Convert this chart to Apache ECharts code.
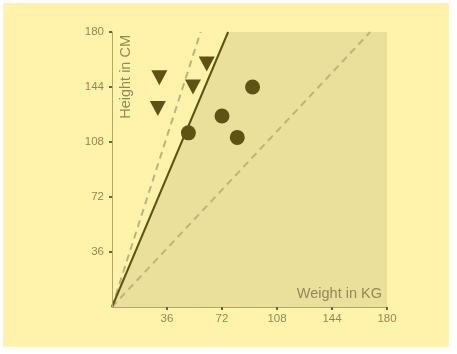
<!DOCTYPE html>
<html>
<head>
<meta charset="utf-8">
<script src="https://cdn.jsdelivr.net/npm/echarts@6/dist/echarts.min.js"></script>
<style>
  html, body { margin: 0; padding: 0; background: #ffffff; }
  #main { position: absolute; left: 3px; top: 3px; width: 446px; height: 344px; }
</style>
</head>
<body>
<div id="main"></div>
<script>
// weight (kg), height (cm)
const triangles = [[31, 150], [30, 130], [53, 144], [62, 159]]
const circles = [[50, 114], [72, 125], [82, 111], [92, 144]]
const solidLine = [[0, 0], [76, 180]]
const shadeEdge = [[0, 0], [76, 180], [180, 180]]
const dashSteep = [[0, 0], [58, 180]]
const dashFlat = [[0, 0], [169, 180]]
const ticks = [0, 36, 72, 108, 144, 180]

const textColor = '#938957'
const axisColor = '#b3a865'
const markColor = '#5e5214'

const axisCommon = {
    min: ticks[0],
    max: ticks[ticks.length - 1],
    interval: 36,
    z: 10,
    splitLine: { show: false },
    axisLine: { lineStyle: { color: axisColor, width: 1 } },
    axisTick: { length: 3, lineStyle: { color: '#6e6430', width: 2 } },
    axisLabel: { showMinLabel: false, color: textColor, fontSize: 11.5, fontFamily: 'Liberation Sans' },
    nameTextStyle: { color: textColor, fontSize: 14.5, fontFamily: 'Liberation Sans' }
}

const chart = echarts.init(document.getElementById('main'))
chart.setOption({
    backgroundColor: '#fff3ab',
    animation: false,
    grid: { left: 109, right: 62, top: 29, bottom: 40 },
    xAxis: Object.assign({}, axisCommon, {
        type: 'value',
        name: 'Weight in KG',
        nameLocation: 'end',
        nameGap: -5,
        nameTextStyle: Object.assign({}, axisCommon.nameTextStyle, {
            align: 'right', verticalAlign: 'bottom', padding: [0, 0, 6, 0]
        }),
        axisLabel: Object.assign({}, axisCommon.axisLabel, { margin: 6 })
    }),
    yAxis: Object.assign({}, axisCommon, {
        type: 'value',
        name: 'Height in CM',
        nameLocation: 'end',
        nameRotate: 90,
        nameGap: -3,
        nameTextStyle: Object.assign({}, axisCommon.nameTextStyle, {
            align: 'right', verticalAlign: 'top', padding: [6, 0, 0, 0]
        }),
        axisLabel: Object.assign({}, axisCommon.axisLabel, { margin: 8 })
    }),
    series: [
        {
            type: 'line',
            data: shadeEdge,
            symbol: 'none',
            lineStyle: { width: 0 },
            areaStyle: { color: '#ebe09b', opacity: 1 },
            z: 1
        },
        {
            type: 'line',
            data: dashSteep,
            symbol: 'none',
            lineStyle: { color: '#bdb37c', width: 2, type: [7, 5] },
            z: 2
        },
        {
            type: 'line',
            data: dashFlat,
            symbol: 'none',
            lineStyle: { color: '#bdb37c', width: 2, type: [7, 5] },
            z: 2
        },
        {
            type: 'line',
            data: solidLine,
            symbol: 'none',
            lineStyle: { color: markColor, width: 2 },
            z: 3
        },
        {
            type: 'scatter',
            data: triangles,
            symbol: 'triangle',
            symbolRotate: 180,
            symbolSize: [16, 15],
            itemStyle: { color: markColor, opacity: 1 },
            z: 4
        },
        {
            type: 'scatter',
            data: circles,
            symbol: 'circle',
            symbolSize: 15,
            itemStyle: { color: markColor, opacity: 1 },
            z: 4
        }
    ]
})
</script>
</body>
</html>
